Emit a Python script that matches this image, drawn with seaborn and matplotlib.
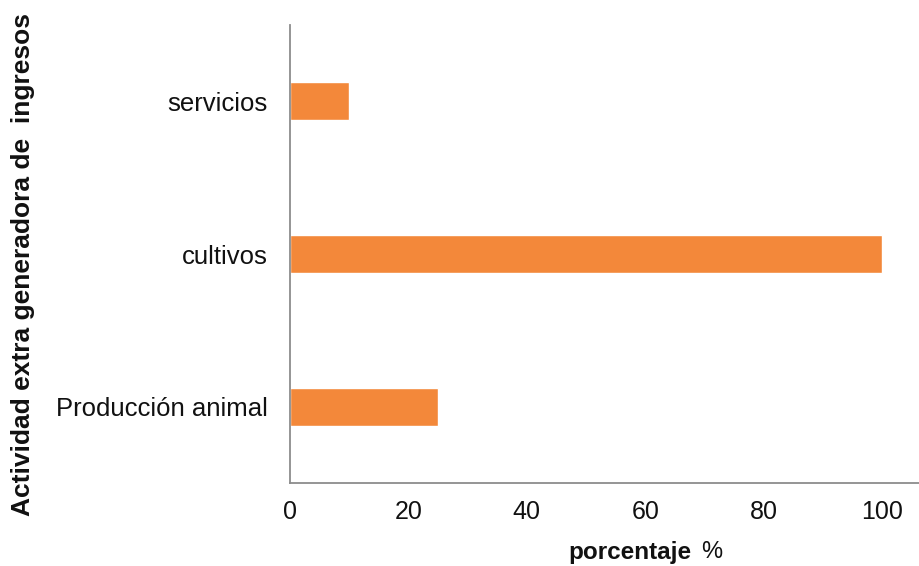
import pandas as pd
import matplotlib.pyplot as plt
import seaborn as sns

# data
categories = ["servicios", "cultivos", "Producción animal"]
porcentaje = [10, 100, 25]
bar_color = "#F3883A"

df = pd.DataFrame({"actividad": categories, "porcentaje": porcentaje})

sns.set_style("white")
plt.rcParams["font.family"] = ["Liberation Sans", "DejaVu Sans"]

fig = plt.figure(figsize=(9.2, 5.66), dpi=100)
ax = fig.add_axes([0.3152, 0.1466, 0.6848, 0.8092])

sns.barplot(data=df, x="porcentaje", y="actividad", color=bar_color,
            width=0.25, saturation=1, ax=ax)

ax.set_xlim(0, 106.4)
ax.set_ylim(2.5, -0.5)
ax.set_xticks([0, 20, 40, 60, 80, 100])

for side in ["top", "right"]:
    ax.spines[side].set_visible(False)
for side in ["left", "bottom"]:
    ax.spines[side].set_color("#8c8c8c")
    ax.spines[side].set_linewidth(1.3)

ax.tick_params(axis="x", which="major", direction="out", length=5,
               color="#8c8c8c", width=1.2, labelsize=18, labelcolor="#111111",
               pad=7)
ax.tick_params(axis="y", length=0, labelsize=18.5, labelcolor="#111111", pad=16)

ax.set_xlabel("")
ax.set_ylabel("")
fig.text(0.752, 0.024, "porcentaje", fontsize=17.5, fontweight="bold",
         ha="right", va="center", color="#111111")
fig.text(0.762, 0.024, "%", fontsize=17, ha="left", va="center",
         color="#111111")
fig.text(0.025, 0.532, "Actividad extra generadora de  ingresos", fontsize=19,
         fontweight="bold", rotation=90, ha="center", va="center",
         color="#111111")

fig.savefig("out.png", dpi=100, facecolor="white")
